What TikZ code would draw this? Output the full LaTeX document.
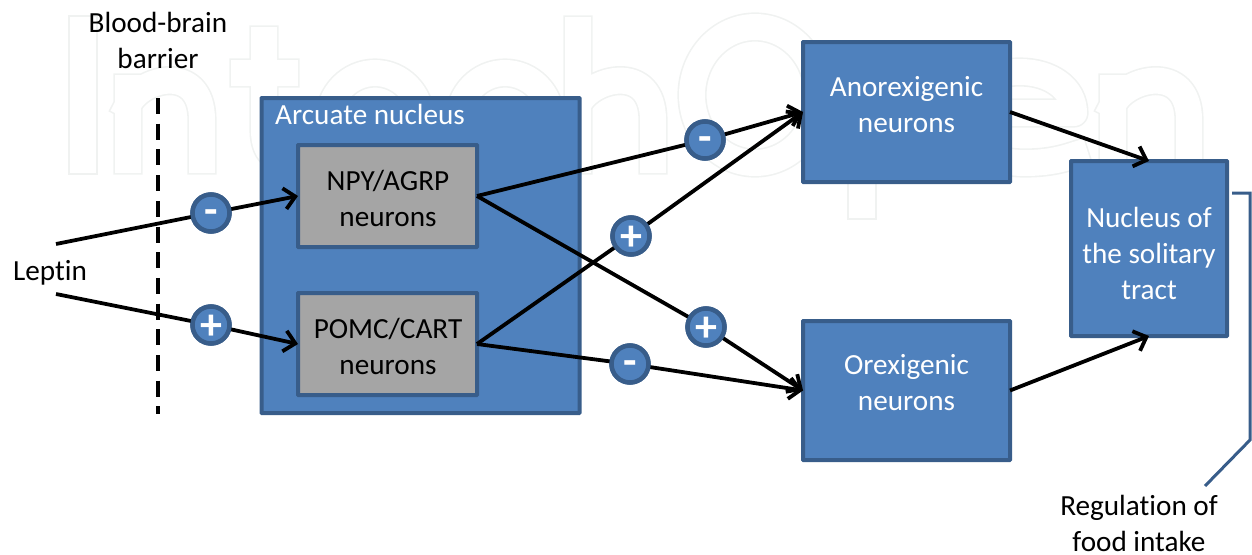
\documentclass[tikz,border=0pt]{standalone}
\usepackage{fontspec}
\setmainfont{Carlito}[Ligatures=NoCommon]
\usetikzlibrary{arrows.meta}
\definecolor{bfill}{HTML}{4F81BD}
\definecolor{bedge}{HTML}{385D8A}
\definecolor{gfill}{HTML}{A5A5A5}
\definecolor{wmark}{HTML}{F0F2F1}
\tikzset{
  txt/.style={font=\fontsize{29.2}{36}\selectfont,align=center,inner sep=0pt},
  bluebox/.style={draw=bedge,fill=bfill,line width=4pt,rectangle,outer sep=0pt,rounded corners=0.5pt,inner sep=0pt},
  graybox/.style={bluebox,fill=gfill},
  sign/.style={circle,draw=bedge,fill=bfill,line width=4.5pt,minimum size=37pt,inner sep=0pt,text=white,font=\fontsize{44}{44}\selectfont\bfseries},
  conn/.style={draw=black,line width=3.8pt},
  arrowed/.style={conn,-{Straight Barb[length=11pt,width=21pt,line width=3.8pt]}},
  wm/.style={draw=wmark,double=white,line width=1.6pt,double distance=26pt,line cap=rect,line join=round}
}
\begin{document}
\begin{tikzpicture}[x=1pt,y=-1pt]
\useasboundingbox (0,0) rectangle (1252,554);
% watermark
\draw[wm] (83,30) -- (83,160);
\draw[wm] (128,160) -- (128,88) (128,105) .. controls (140,78) and (202,62) .. (202,120) -- (202,160);
\draw[wm] (264,40) -- (264,130) .. controls (264,158) and (280,161) .. (300,161) (244,73) -- (285,73);
\draw[wm] (375,120) ellipse (46pt and 47pt);
\draw[wm] (505,120) ellipse (46pt and 47pt);
\draw[wm] (578,30) -- (578,160) (578,105) .. controls (590,78) and (653,62) .. (653,120) -- (653,160);
\draw[wm] (755,95) ellipse (63pt and 68pt);
\draw[wm] (862,80) -- (862,205);
\draw[wm] (960,113) -- (1074,113) .. controls (1074,88) and (1050,72) .. (1020,72) .. controls (985,72) and (966,90) .. (966,118) .. controls (966,145) and (985,163) .. (1025,163) .. controls (1045,163) and (1060,160) .. (1075,155);
\draw[wm] (1113,160) -- (1113,88) (1113,105) .. controls (1125,78) and (1189,62) .. (1189,120) -- (1189,160);
% boxes
\node[bluebox,minimum width=318pt,minimum height=315pt] (arc) at (420.5,255.5) {};
\node[txt,text=white,anchor=base west] (arclabel) at (275,124) {Arcuate nucleus};
\node[graybox,minimum width=179pt,minimum height=102pt] (npy) at (387.5,196) {};
\node[graybox,minimum width=179pt,minimum height=102pt] (pomc) at (387.5,344) {};
\node[bluebox,minimum width=207pt,minimum height=140pt] (anor) at (906.5,112) {};
\node[bluebox,minimum width=207pt,minimum height=139pt] (orex) at (906.5,390.5) {};
\node[bluebox,minimum width=156pt,minimum height=175pt] (nts) at (1149,248.5) {};
% box texts
\node[txt,text=black] (npyt) at (388,198) {NPY/AGRP\\neurons};
\node[txt,text=black] (pomct) at (388,346) {POMC/CART\\neurons};
\node[txt,text=white] (anort) at (906.5,105) {Anorexigenic\\neurons};
\node[txt,text=white] (orext) at (906.5,382.5) {Orexigenic\\neurons};
\node[txt,text=white] (ntst) at (1149,253.5) {Nucleus of\\the solitary\\tract};
% free text
\node[txt] (lep) at (50,273) {Leptin};
\node[txt] (bbb) at (158,40) {Blood-brain\\barrier};
\node[txt] (reg) at (1139,523.5) {Regulation of\\food intake};
% free ends
\coordinate (lepa) at (56,244);
\coordinate (lepb) at (56,294);
\coordinate (bbbtop) at (158,98);
\coordinate (bbbbot) at (158,414);
\coordinate (br1) at (1232,193);
\coordinate (br2) at (1250,193);
\coordinate (br3) at (1250,440);
\coordinate (br4) at (1205,486);
% barrier
\draw[line width=3.8pt,dash pattern=on 16pt off 9.7pt] (bbbtop) -- (bbbbot);
% signs
\node[sign] (s1) at (211,213) {};
\node[sign] (s2) at (211,325) {};
\node[sign] (s3) at (705,140) {};
\node[sign] (s4) at (631,236) {};
\node[sign] (s5) at (706,327) {};
\node[sign] (s6) at (630,364) {};
% connectors
\draw[conn] (lepa) -- (s1.center);
\draw[arrowed] (s1.center) -- (npy.west);
\draw[conn] (lepb) -- (s2.center);
\draw[arrowed] (s2.center) -- (pomc.west);
\draw[conn] (npy.east) -- (s3.center);
\draw[arrowed] (s3.center) -- (anor.west);
\draw[conn] (npy.east) -- (s5.center);
\draw[arrowed] (s5.center) -- (orex.west);
\draw[conn] (pomc.east) -- (s4.center);
\draw[arrowed] (s4.center) -- (anor.west);
\draw[conn] (pomc.east) -- (s6.center);
\draw[arrowed] (s6.center) -- (orex.west);
\draw[arrowed] (anor.east) -- (nts.north);
\draw[arrowed] (orex.east) -- (nts.south);
\draw[draw=bedge,line width=3pt] (br1) -- (br2) -- (br3) -- (br4);
% sign faces (on top of connectors)
\foreach \n/\t/\r in {s1/-/-11pt,s2/+/-14pt,s3/-/-11pt,s4/+/-14pt,s5/+/-14pt,s6/-/-11pt}{
  \node[sign] at (\n) {\smash{\raisebox{\r}{\t}}};
}
\end{tikzpicture}
\end{document}
